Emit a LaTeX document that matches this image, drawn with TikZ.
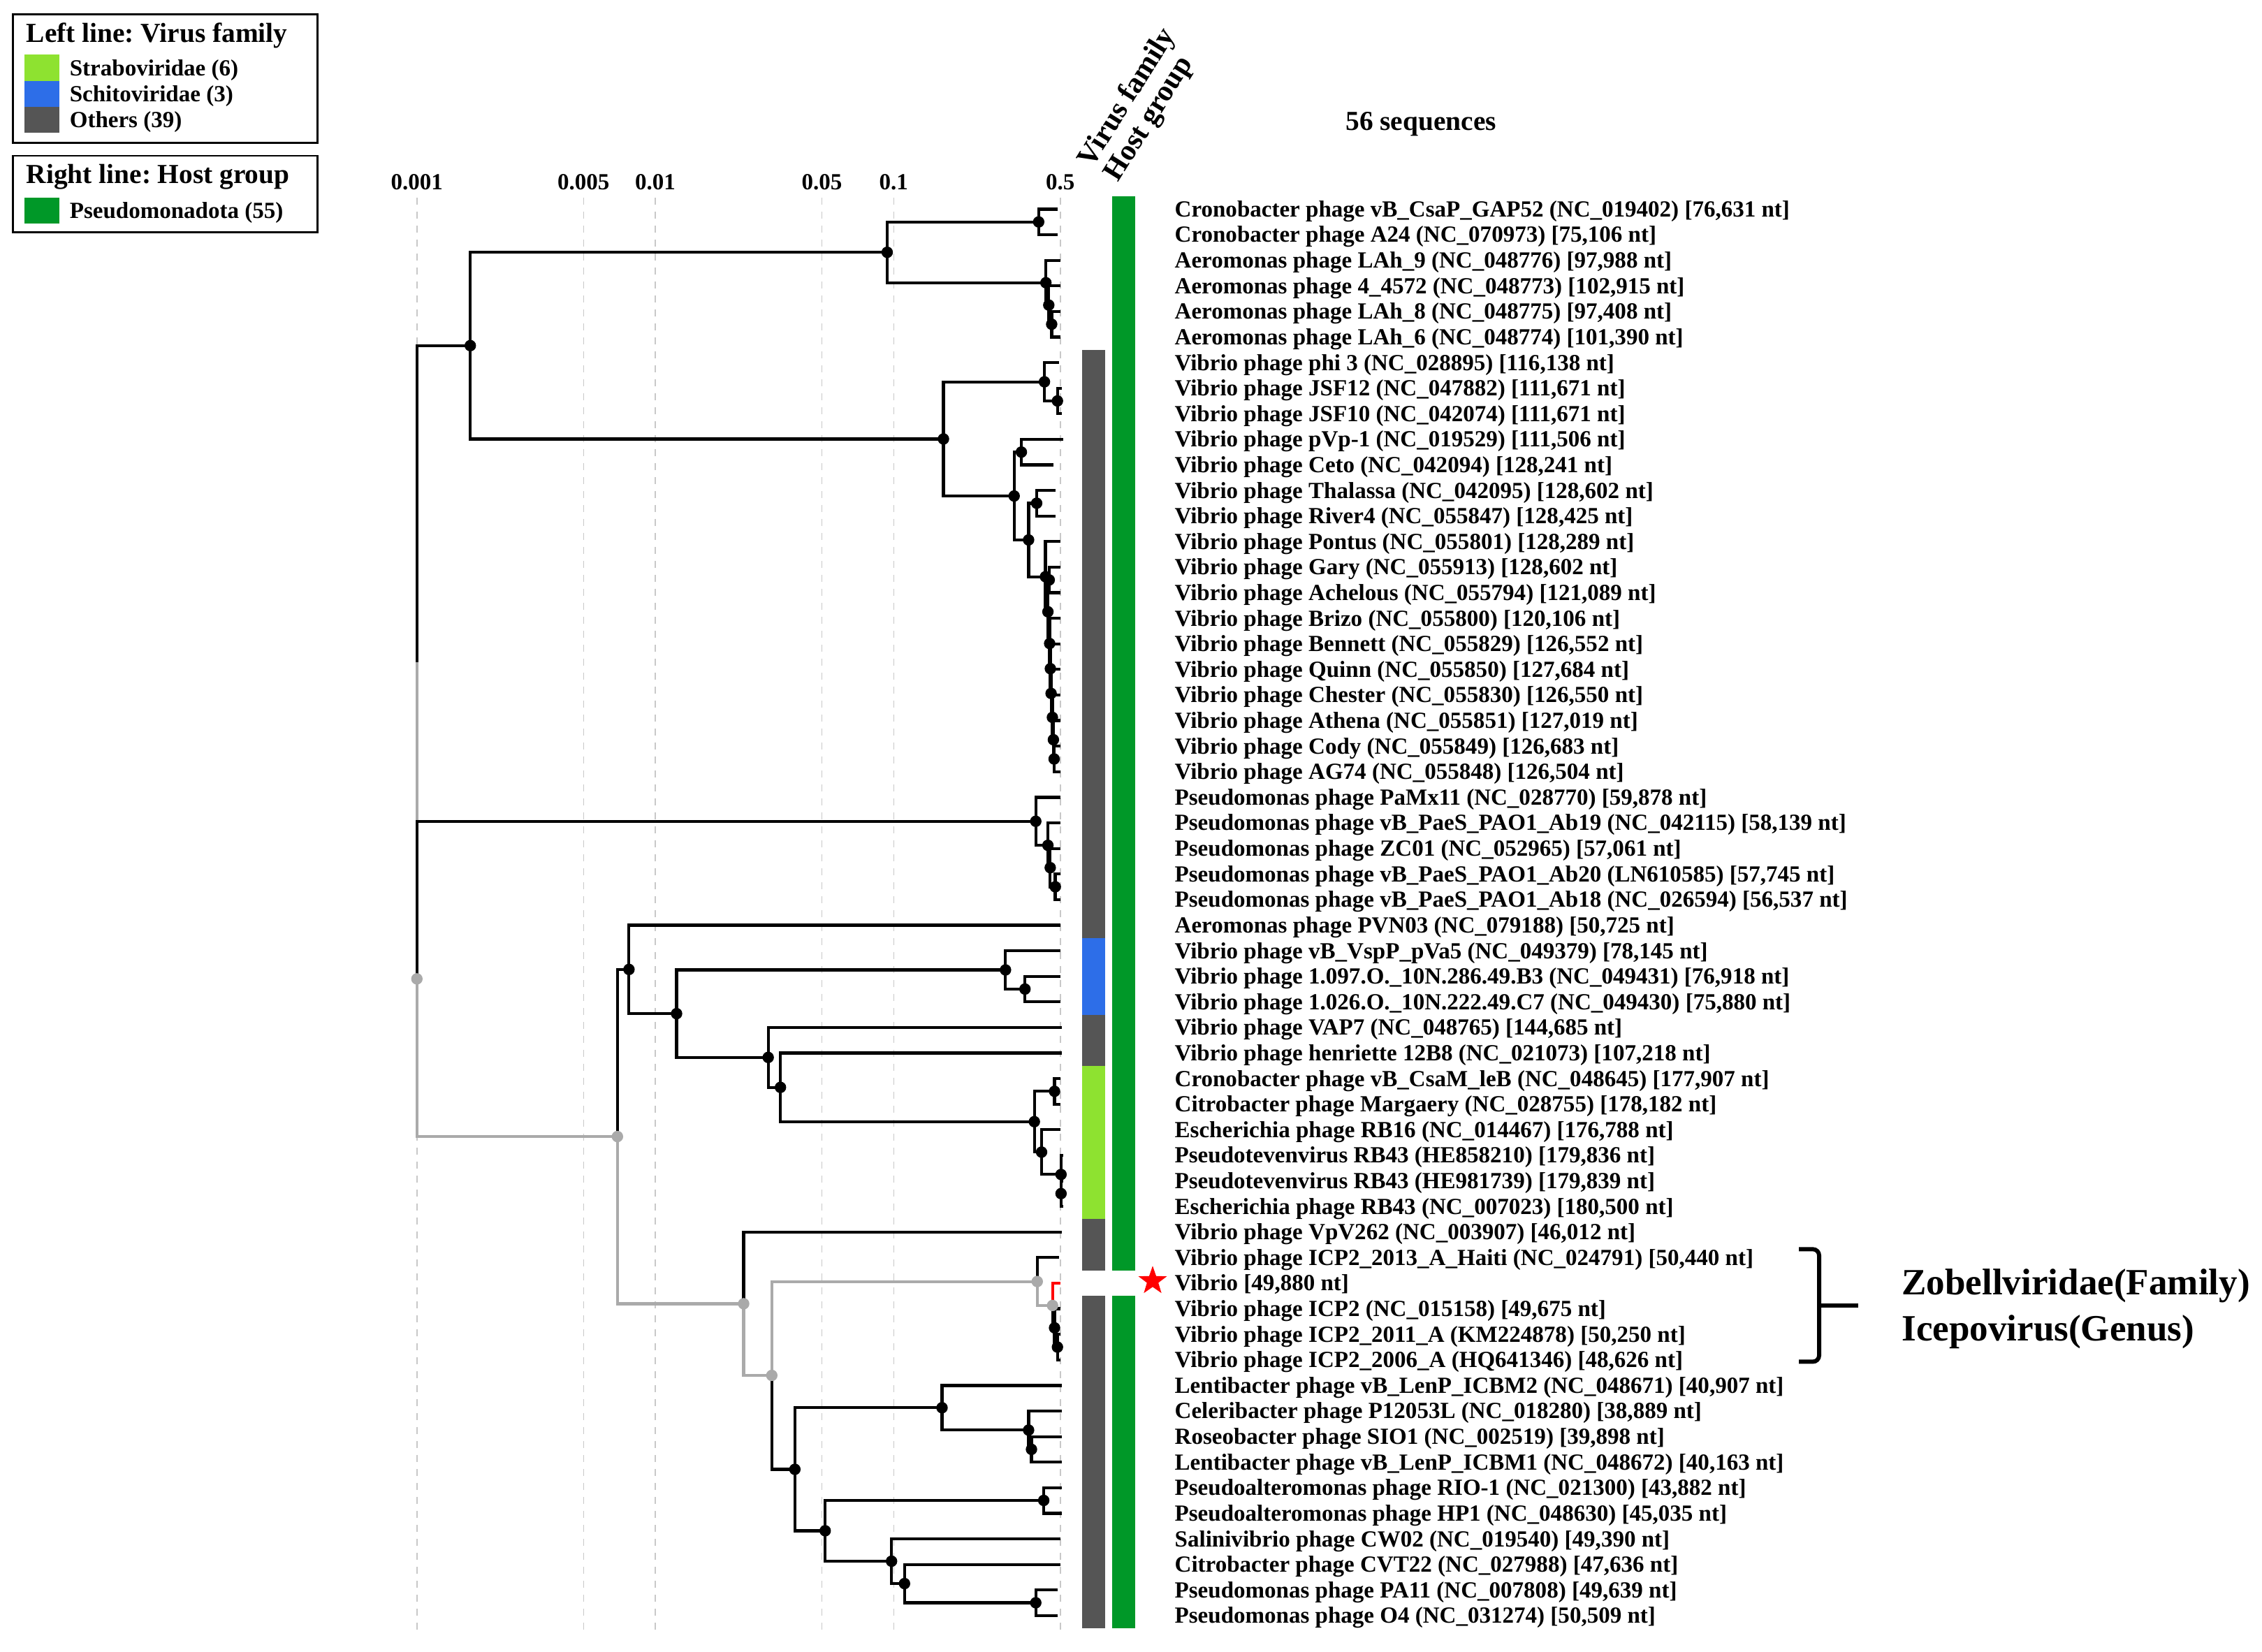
\documentclass[tikz,border=0pt]{standalone}
\usepackage{fontspec}
\setmainfont{Liberation Serif}
\usetikzlibrary{shapes.geometric}
\definecolor{pathgray}{RGB}{170,170,170}
\definecolor{gridgray}{RGB}{200,200,200}
\definecolor{famgray}{RGB}{85,85,85}
\definecolor{strabo}{RGB}{142,226,48}
\definecolor{schito}{RGB}{45,110,232}
\definecolor{hostgreen}{RGB}{0,152,40}
\newcommand\fsleaf{\fontsize{9.4}{11}\selectfont\bfseries}
\newcommand\fsbig{\fontsize{11.2}{13}\selectfont\bfseries}
\newcommand\fshdr{\fontsize{12}{13}\selectfont\bfseries}
\newcommand\fszob{\fontsize{15.1}{18}\selectfont\bfseries}
\frenchspacing
\begin{document}
\begin{tikzpicture}[x=0.2065mm,y=-0.2065mm,
  br/.style={line width=1.2pt,black},
  gbr/.style={line width=1.2pt,pathgray},
  rbr/.style={line width=1.2pt,red},
  gridline/.style={draw=gridgray,line width=0.45pt,dash pattern=on 1mm off 1mm},
  leaf/.style={anchor=base west,inner sep=0pt,font=\fsleaf},
  axlab/.style={anchor=base,inner sep=0pt,font=\fsleaf},
  lgtitle/.style={anchor=base west,inner sep=0pt,font=\fsbig},
  lgitem/.style={anchor=base west,inner sep=0pt,font=\fsleaf},
  hdr/.style={anchor=base west,inner sep=0pt,font=\fshdr,rotate=58},
  zob/.style={anchor=base west,inner sep=0pt,font=\fszob},
  bdot/.style={fill=black},
  gdot/.style={fill=pathgray}]
\useasboundingbox (0,0) rectangle (1568,1145);

% grid lines and axis labels
\foreach \xx/\lab/\nm in {289/0.001/a1,404.5/0.005/a2,454.25/0.01/a3,569.75/0.05/a4,619.5/0.1/a5,735/0.5/a6}{
  \coordinate (g\nm top) at (\xx,137);
  \coordinate (g\nm bot) at (\xx,1130);
  \draw[gridline] (g\nm top) -- (g\nm bot);
  \node[axlab] (\nm) at (\xx,131.5) {\lab};
}

% legend
\draw[line width=0.8pt] (9,10) rectangle (220,99);
\node[lgtitle] (lt1) at (18,29.3) {Left line: Virus family};
\fill[strabo] (17,38) rectangle (41,56);
\fill[schito] (17,56) rectangle (41,74);
\fill[famgray] (17,74) rectangle (41,92);
\node[lgitem] (li1) at (48,52.3) {Straboviridae (6)};
\node[lgitem] (li2) at (48,70.3) {Schitoviridae (3)};
\node[lgitem] (li3) at (48,88.3) {Others (39)};
\draw[line width=0.8pt] (9,108) rectangle (220,161);
\node[lgtitle] (lt2) at (18,127.3) {Right line: Host group};
\fill[hostgreen] (17,137) rectangle (41,155);
\node[lgitem] (li4) at (48,151.3) {Pseudomonadota (55)};

% headers
\node[hdr] (hv) at (757,117) {Virus family};
\node[hdr] (hh) at (775,127) {Host group};
\node[anchor=base,inner sep=0pt,font=\fsbig] (nseq) at (985,90.4) {56 sequences};

% annotation bars
\fill[famgray] (750,242.5) rectangle (766,650.3);
\fill[schito] (750,650.3) rectangle (766,703.4);
\fill[famgray] (750,703.4) rectangle (766,738.9);
\fill[strabo] (750,738.9) rectangle (766,845.2);
\fill[famgray] (750,845.2) rectangle (766,880.7);
\fill[famgray] (750,898.4) rectangle (766,1128.9);
\fill[hostgreen] (771,136.1) rectangle (787,880.7);
\fill[hostgreen] (771,898.4) rectangle (787,1128.9);

% tips
\foreach \i/\x in {1/733,2/733,3/735,4/735,5/735,6/735,7/734,8/736,9/736,10/737,
  11/730,12/731.5,13/731.5,14/735,15/735,16/735,17/735,18/735,19/735,20/735,
  21/735,22/735,23/735,24/735,25/735,26/735,27/735,28/735,29/735,30/735,
  31/735,32/735,33/736,34/736,35/735,36/735,37/735,38/737,39/737,40/737,
  41/736,42/734,43/735,44/735,45/735,46/735,47/736,48/736,49/736,50/736,
  51/736,52/736,53/735,54/735,55/733,56/733}{
  \pgfmathsetmacro{\yy}{145+17.7273*(\i-1)}
  \coordinate (t\i) at (\x,\yy);
}

% internal nodes
\coordinate (root) at (289,459.1);
\coordinate (A) at (326,239.6);
\coordinate (B) at (615,174.9);
\coordinate (cr) at (720,153.85);
\coordinate (ae1) at (725,196);
\coordinate (ae2) at (727,211.5);
\coordinate (ae3) at (729,224.75);
\coordinate (C) at (654,304.3);
\coordinate (D) at (724,264.7);
\coordinate (E) at (733,277.95);
\coordinate (F) at (703,343.85);
\coordinate (G) at (708,313.4);
\coordinate (H) at (713,374.3);
\coordinate (I) at (718.6,348.85);
\coordinate (J) at (724.7,399.8);
\coordinate (n15) at (726.4,424.1);
\coordinate (p1516) at (727.3,402.05);
\coordinate (n17) at (727.6,446.1);
\coordinate (n18) at (728.1,463.55);
\coordinate (n19) at (728.6,480.7);
\coordinate (n20) at (729.5,497.3);
\coordinate (n21) at (730.2,512.8);
\coordinate (n22) at (730.7,526.15);
\coordinate (X2) at (289,678.6);
\coordinate (K) at (718,569.35);
\coordinate (L) at (726.4,586);
\coordinate (M) at (728,601.5);
\coordinate (N) at (731.5,614.75);
\coordinate (P) at (428,787.9);
\coordinate (Q) at (436,672.05);
\coordinate (S) at (469,702.7);
\coordinate (T) at (697,672.4);
\coordinate (T2) at (710.5,685.65);
\coordinate (U) at (532.5,733.05);
\coordinate (V) at (541,753.8);
\coordinate (W) at (717,777.6);
\coordinate (X) at (731,756.55);
\coordinate (Y) at (722,798.7);
\coordinate (Z) at (735.5,814.2);
\coordinate (AA) at (735.5,827.45);
\coordinate (R) at (515.5,903.8);
\coordinate (AB) at (535,953.5);
\coordinate (AC) at (719,888.4);
\coordinate (AE) at (729.6,905);
\coordinate (AF) at (731,920.5);
\coordinate (AF2) at (733,933.85);
\coordinate (AD) at (551,1018.6);
\coordinate (AG) at (653,975.9);
\coordinate (AI) at (713,991.4);
\coordinate (AJ) at (715,1004.75);
\coordinate (AH) at (572,1061.2);
\coordinate (AK) at (723.5,1040.15);
\coordinate (AL) at (618,1082.3);
\coordinate (AM) at (627,1097.8);
\coordinate (AN) at (718,1111.1);

% gray path branches
\draw[gbr] (root) |- (X2);
\draw[gbr] (X2) |- (P);
\draw[gbr] (P) |- (R);
\draw[gbr] (R) |- (AB);
\draw[gbr] (AB) |- (AC);
\draw[gbr] (AC) |- (AE);

% black branches
\foreach \p/\c in {root/A,X2/K,A/B,A/C,B/cr,B/ae1,cr/t1,cr/t2,ae1/t3,ae1/ae2,ae2/t4,ae2/ae3,ae3/t5,ae3/t6,
  C/D,C/F,D/t7,D/E,E/t8,E/t9,F/G,F/H,G/t10,G/t11,H/I,H/J,I/t12,I/t13,
  J/t14,J/n15,n15/p1516,n15/n17,p1516/t15,p1516/t16,n17/t17,n17/n18,n18/t18,n18/n19,
  n19/t19,n19/n20,n20/t20,n20/n21,n21/t21,n21/n22,n22/t22,n22/t23,
  K/t24,K/L,L/t25,L/M,M/t26,M/N,N/t27,N/t28,
  P/Q,Q/t29,Q/S,S/T,S/U,T/t30,T/T2,T2/t31,T2/t32,U/t33,U/V,V/t34,V/W,W/X,W/Y,
  X/t35,X/t36,Y/t37,Y/Z,Z/t38,Z/AA,AA/t39,AA/t40,
  R/t41,AB/AD,AC/t42,AE/AF,AF/t44,AF/AF2,AF2/t45,AF2/t46,
  AD/AG,AD/AH,AG/t47,AG/AI,AI/t48,AI/AJ,AJ/t49,AJ/t50,
  AH/AK,AH/AL,AK/t51,AK/t52,AL/t53,AL/AM,AM/t54,AM/AN,AN/t55,AN/t56}{
  \draw[br] (\p) |- (\c);
}
\draw[rbr] (AE) |- (t43);

% node dots
\foreach \n in {A,B,cr,ae1,ae2,ae3,C,D,E,F,G,H,I,J,n15,p1516,n17,n18,n19,n20,n21,n22,
  K,L,M,N,Q,S,T,T2,U,V,W,X,Y,Z,AA,AF,AF2,AD,AG,AI,AJ,AH,AK,AL,AM,AN}{
  \fill[bdot] (\n) circle[radius=0.82mm];
}
\foreach \n in {X2,P,R,AB,AC,AE}{
  \fill[gdot] (\n) circle[radius=0.82mm];
}

% star
\node[star,star points=5,star point ratio=2.5,fill=red,inner sep=0pt,minimum size=4.3mm] (qstar) at (799,888) {};

% leaf labels
\foreach \i/\txt in {
1/{Cronobacter phage vB\_CsaP\_GAP52 (NC\_019402) [76,631 nt]},
2/{Cronobacter phage A24 (NC\_070973) [75,106 nt]},
3/{Aeromonas phage LAh\_9 (NC\_048776) [97,988 nt]},
4/{Aeromonas phage 4\_4572 (NC\_048773) [102,915 nt]},
5/{Aeromonas phage LAh\_8 (NC\_048775) [97,408 nt]},
6/{Aeromonas phage LAh\_6 (NC\_048774) [101,390 nt]},
7/{Vibrio phage phi 3 (NC\_028895) [116,138 nt]},
8/{Vibrio phage JSF12 (NC\_047882) [111,671 nt]},
9/{Vibrio phage JSF10 (NC\_042074) [111,671 nt]},
10/{Vibrio phage pVp-1 (NC\_019529) [111,506 nt]},
11/{Vibrio phage Ceto (NC\_042094) [128,241 nt]},
12/{Vibrio phage Thalassa (NC\_042095) [128,602 nt]},
13/{Vibrio phage River4 (NC\_055847) [128,425 nt]},
14/{Vibrio phage Pontus (NC\_055801) [128,289 nt]},
15/{Vibrio phage Gary (NC\_055913) [128,602 nt]},
16/{Vibrio phage Achelous (NC\_055794) [121,089 nt]},
17/{Vibrio phage Brizo (NC\_055800) [120,106 nt]},
18/{Vibrio phage Bennett (NC\_055829) [126,552 nt]},
19/{Vibrio phage Quinn (NC\_055850) [127,684 nt]},
20/{Vibrio phage Chester (NC\_055830) [126,550 nt]},
21/{Vibrio phage Athena (NC\_055851) [127,019 nt]},
22/{Vibrio phage Cody (NC\_055849) [126,683 nt]},
23/{Vibrio phage AG74 (NC\_055848) [126,504 nt]},
24/{Pseudomonas phage PaMx11 (NC\_028770) [59,878 nt]},
25/{Pseudomonas phage vB\_PaeS\_PAO1\_Ab19 (NC\_042115) [58,139 nt]},
26/{Pseudomonas phage ZC01 (NC\_052965) [57,061 nt]},
27/{Pseudomonas phage vB\_PaeS\_PAO1\_Ab20 (LN610585) [57,745 nt]},
28/{Pseudomonas phage vB\_PaeS\_PAO1\_Ab18 (NC\_026594) [56,537 nt]},
29/{Aeromonas phage PVN03 (NC\_079188) [50,725 nt]},
30/{Vibrio phage vB\_VspP\_pVa5 (NC\_049379) [78,145 nt]},
31/{Vibrio phage 1.097.O.\_10N.286.49.B3 (NC\_049431) [76,918 nt]},
32/{Vibrio phage 1.026.O.\_10N.222.49.C7 (NC\_049430) [75,880 nt]},
33/{Vibrio phage VAP7 (NC\_048765) [144,685 nt]},
34/{Vibrio phage henriette 12B8 (NC\_021073) [107,218 nt]},
35/{Cronobacter phage vB\_CsaM\_leB (NC\_048645) [177,907 nt]},
36/{Citrobacter phage Margaery (NC\_028755) [178,182 nt]},
37/{Escherichia phage RB16 (NC\_014467) [176,788 nt]},
38/{Pseudotevenvirus RB43 (HE858210) [179,836 nt]},
39/{Pseudotevenvirus RB43 (HE981739) [179,839 nt]},
40/{Escherichia phage RB43 (NC\_007023) [180,500 nt]},
41/{Vibrio phage VpV262 (NC\_003907) [46,012 nt]},
42/{Vibrio phage ICP2\_2013\_A\_Haiti (NC\_024791) [50,440 nt]},
43/{Vibrio [49,880 nt]},
44/{Vibrio phage ICP2 (NC\_015158) [49,675 nt]},
45/{Vibrio phage ICP2\_2011\_A (KM224878) [50,250 nt]},
46/{Vibrio phage ICP2\_2006\_A (HQ641346) [48,626 nt]},
47/{Lentibacter phage vB\_LenP\_ICBM2 (NC\_048671) [40,907 nt]},
48/{Celeribacter phage P12053L (NC\_018280) [38,889 nt]},
49/{Roseobacter phage SIO1 (NC\_002519) [39,898 nt]},
50/{Lentibacter phage vB\_LenP\_ICBM1 (NC\_048672) [40,163 nt]},
51/{Pseudoalteromonas phage RIO-1 (NC\_021300) [43,882 nt]},
52/{Pseudoalteromonas phage HP1 (NC\_048630) [45,035 nt]},
53/{Salinivibrio phage CW02 (NC\_019540) [49,390 nt]},
54/{Citrobacter phage CVT22 (NC\_027988) [47,636 nt]},
55/{Pseudomonas phage PA11 (NC\_007808) [49,639 nt]},
56/{Pseudomonas phage O4 (NC\_031274) [50,509 nt]}}{
  \pgfmathsetmacro{\yy}{145+17.7273*(\i-1)+5.3}
  \node[leaf] (l\i) at (814,\yy) {\txt};
}

% bracket and clade annotation
\coordinate (bt) at (1247,866);
\coordinate (bb) at (1247,944);
\coordinate (bm) at (1261,905);
\coordinate (bm2) at (1288,905);
\draw[line width=1.7pt,rounded corners=0.9mm] (bt) -- (1261,866) -- (1261,944) -- (bb);
\draw[line width=1.7pt] (bm) -- (bm2);
\node[zob] (zf) at (1318,897.5) {Zobellviridae(Family)};
\node[zob] (zg) at (1318,929.5) {Icepovirus(Genus)};
\end{tikzpicture}
\end{document}
